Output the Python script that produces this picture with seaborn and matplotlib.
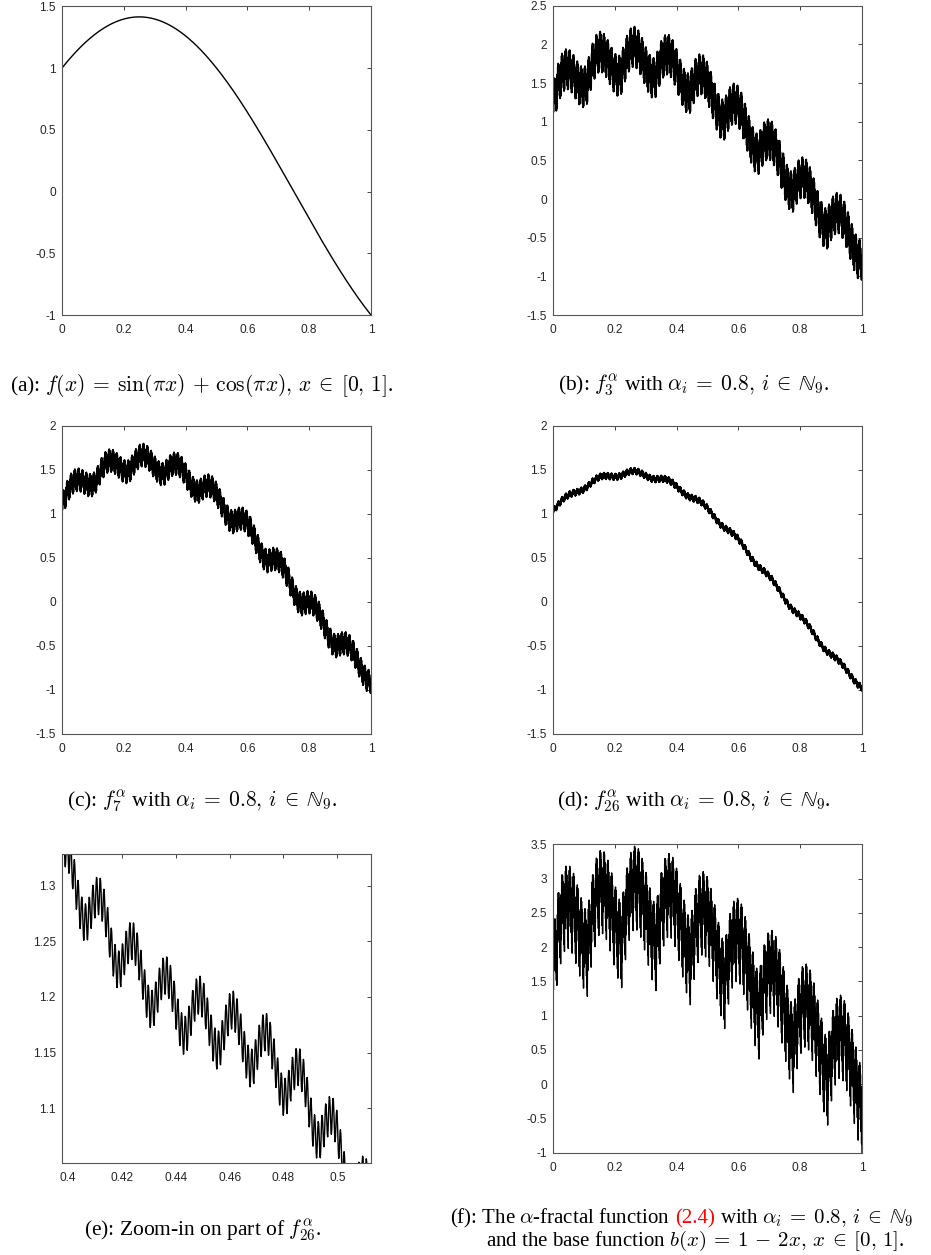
import math
import numpy as np
import pandas as pd
import matplotlib
matplotlib.use("Agg")
import matplotlib.pyplot as plt
import seaborn as sns

sns.set_theme(style="white")
plt.rcParams["font.family"] = ["Liberation Sans", "DejaVu Sans"]
plt.rcParams["mathtext.fontset"] = "cm"
plt.rcParams["axes.unicode_minus"] = False

# ---------------- data / parameters ----------------
N_MAPS = 9                         # i in N_9, equally spaced partition
ALPHA = [0.8] * 9                  # scaling factors alpha_i
BERNSTEIN_DEGREES = [3, 7, 26]     # f_3, f_7, f_26 (base = Bernstein polynomial)
BASE_LINEAR = [1.0, -2.0]          # b(x) = 1 - 2x
LEVELS = 4                         # IFS resolution levels

X_TICKS = [0, 0.2, 0.4, 0.6, 0.8, 1]
X_TICK_LABELS = ["0", "0.2", "0.4", "0.6", "0.8", "1"]
YLIM_A = [-1, 1.5]
YLIM_B = [-1.5, 2.5]
YLIM_C = [-1.5, 2]
YLIM_D = [-1.5, 2]
YLIM_F = [-1, 3.5]
XLIM_E = [0.3978, 0.5125]
YLIM_E = [1.051, 1.3285]
X_TICKS_E = [0.4, 0.42, 0.44, 0.46, 0.48, 0.5]
Y_TICKS_E = [1.1, 1.15, 1.2, 1.25, 1.3]

CAPTIONS = [
    r"(a): $f(x)\:=\:\sin(\pi x)\,+\,\cos(\pi x),\,x\:\in\:[0,\,1]$.",
    r"(b): $f_3^{\alpha}$ with $\alpha_i\:=\:0.8,\,i\:\in\:\mathbb{N}_9$.",
    r"(c): $f_7^{\alpha}$ with $\alpha_i\:=\:0.8,\,i\:\in\:\mathbb{N}_9$.",
    r"(d): $f_{26}^{\alpha}$ with $\alpha_i\:=\:0.8,\,i\:\in\:\mathbb{N}_9$.",
    r"(e): Zoom-in on part of $f_{26}^{\alpha}$.",
]
CAPTION_F1 = [r"(f): The $\alpha$-fractal function", "(2.4)",
              r"with $\alpha_i\:=\:0.8,\,i\:\in\:\mathbb{N}_9$"]
CAPTION_F2 = r"and the base function $b(x)\:=\:1\,-\,2x,\,x\:\in\:[0,\,1]$."


def f(x):
    return np.sin(np.pi * x) + np.cos(np.pi * x)


def bernstein(n):
    nodes = f(np.arange(n + 1) / n)
    def b(x):
        x = np.asarray(x, float)
        return sum(nodes[k] * math.comb(n, k) * x**k * (1 - x)**(n - k)
                   for k in range(n + 1))
    return b


def linear_base(x):
    return BASE_LINEAR[0] + BASE_LINEAR[1] * np.asarray(x, float)


def alpha_fractal(b, levels=LEVELS):
    xs = np.array([0.0, 1.0])
    gs = f(xs)
    for _ in range(levels):
        nx, ng = [], []
        for i in range(N_MAPS):
            lx = (i + xs) / N_MAPS
            lg = f(lx) + ALPHA[i] * (gs - b(xs))
            if i > 0:
                lx, lg = lx[1:], lg[1:]
            nx.append(lx)
            ng.append(lg)
        xs, gs = np.concatenate(nx), np.concatenate(ng)
    return xs, gs


xa = np.linspace(0, 1, 1001)
series = {"a": (xa, f(xa))}
for key, n in zip(["b", "c", "d"], BERNSTEIN_DEGREES):
    series[key] = alpha_fractal(bernstein(n))
series["e"] = series["d"]
series["f"] = alpha_fractal(linear_base)

# ---------------- layout ----------------
W, H = 931, 1255
fig = plt.figure(figsize=(W / 100, H / 100), dpi=100)

boxes = {  # left, top, right, bottom in pixels
    "a": (62, 6.3, 371, 315),
    "b": (553, 5.7, 862, 315),
    "c": (62, 425.7, 371, 734),
    "d": (553, 425.7, 862, 734),
    "e": (62, 854, 371, 1162.7),
    "f": (553, 844.3, 862, 1152.7),
}
ylims = {"a": YLIM_A, "b": YLIM_B, "c": YLIM_C, "d": YLIM_D, "f": YLIM_F}
lws = {"a": 1.0, "b": 1.3, "c": 1.3, "d": 1.3, "e": 1.0, "f": 1.0}
AX_COL = "#262626"

axes = {}
for key, (l, t, r, btm) in boxes.items():
    ax = fig.add_axes([l / W, 1 - btm / H, (r - l) / W, (btm - t) / H])
    x, y = series[key]
    df = pd.DataFrame({"x": x, "y": y})
    sns.lineplot(data=df, x="x", y="y", ax=ax, color="black",
                 lw=lws[key], estimator=None, sort=False)
    if key == "e":
        ax.set_xlim(XLIM_E)
        ax.set_ylim(YLIM_E)
        ax.set_xticks(X_TICKS_E)
        ax.set_xticklabels([f"{v:g}" for v in X_TICKS_E])
        ax.set_yticks(Y_TICKS_E)
        ax.set_yticklabels([f"{v:g}" for v in Y_TICKS_E])
    else:
        ax.set_xlim(0, 1)
        ax.set_ylim(ylims[key])
        ax.set_xticks(X_TICKS)
        ax.set_xticklabels(X_TICK_LABELS)
        yt = np.arange(ylims[key][0], ylims[key][1] + 1e-9, 0.5)
        ax.set_yticks(yt)
        ax.set_yticklabels([f"{v:g}" for v in yt])
    ax.set_xlabel("")
    ax.set_ylabel("")
    ax.tick_params(direction="in", length=3.2, width=0.6, colors=AX_COL,
                   labelsize=8.6, top=True, right=True, pad=6.5)
    ax.tick_params(axis="y", pad=4.5)
    for sp in ax.spines.values():
        sp.set_color("#555555")
        sp.set_linewidth(0.8)
    ax.set_facecolor("white")
    axes[key] = ax

# ---------------- captions ----------------
CAP_SIZE = 15.5
cap_pos = [(202, 391), (694, 391), (202, 806.7), (694, 806.7), (203, 1236)]
for txt, (cx, cy) in zip(CAPTIONS, cap_pos):
    fig.text(cx / W, 1 - cy / H, txt, ha="center", va="baseline",
             fontsize=CAP_SIZE, family=["Liberation Serif"], color="black")

fig.canvas.draw()
renderer = fig.canvas.get_renderer()


def width_px(s, size):
    t = fig.text(0, 0, s, fontsize=size, family=["Liberation Serif"])
    w = t.get_window_extent(renderer).width
    t.remove()
    return w

FSIZE = 15.0
space = width_px("x x", FSIZE) - width_px("xx", FSIZE)
widths = [width_px(p, FSIZE) for p in CAPTION_F1]
x0 = 450
y1 = 1223
colors = ["black", "red", "black"]
for p, w, c in zip(CAPTION_F1, widths, colors):
    fig.text(x0 / W, 1 - y1 / H, p, ha="left", va="baseline", fontsize=FSIZE,
             family=["Liberation Serif"], color=c)
    x0 += w + space
fig.text(695 / W, 1 - 1246 / H, CAPTION_F2, ha="center", va="baseline",
         fontsize=FSIZE, family=["Liberation Serif"], color="black")

fig.savefig("out.png", dpi=100, facecolor="white")
